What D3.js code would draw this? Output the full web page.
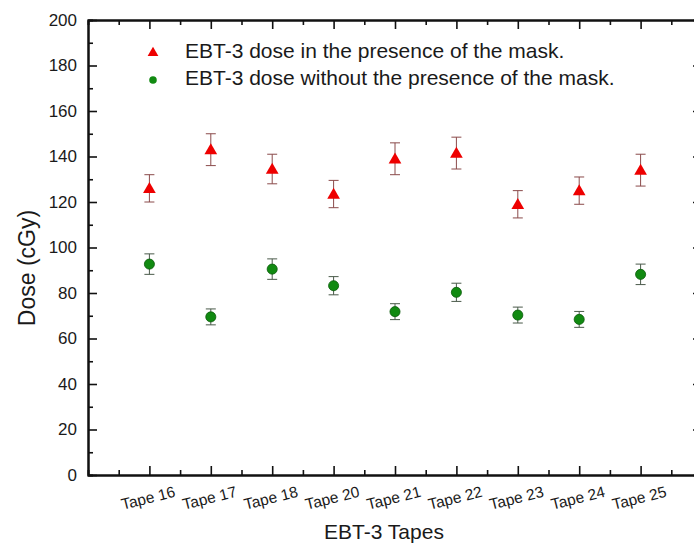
<!DOCTYPE html>
<html>
<head>
<meta charset="utf-8">
<script src="https://cdn.jsdelivr.net/npm/d3@7"></script>
<style>
  body { margin: 0; background: #fff; }
  svg text { font-family: "Liberation Sans", Arial, sans-serif; fill: #1a1a1a; }
</style>
</head>
<body>
<div id="chart"></div>
<script>
// podaci procitani sa slike
const tapes = ["Tape 16", "Tape 17", "Tape 18", "Tape 20", "Tape 21", "Tape 22", "Tape 23", "Tape 24", "Tape 25"];
const withMask = [126, 143, 134.5, 123.5, 139, 141.5, 119, 125, 134];
const withMaskErr = [6, 7, 6.5, 6, 7, 7, 6, 6, 7];
const noMask = [92.7, 69.5, 90.5, 83.2, 71.8, 80.3, 70.3, 68.4, 88.2];
const noMaskErr = [4.5, 3.5, 4.5, 4, 3.5, 4, 3.5, 3.5, 4.5];
const yTicks = [0, 20, 40, 60, 80, 100, 120, 140, 160, 180, 200];
const legendLabels = ["EBT-3 dose in the presence of the mask.", "EBT-3 dose without the presence of the mask."];

const dims = {
    width: 694,
    height: 545,
    margin: { top: 20, left: 88, bottom: 70 },
};
dims.boundsHeight = dims.height - dims.margin.top - dims.margin.bottom; // 455
dims.boundsWidth = 614; // desni rub je malo izvan slike

const svg = d3.select("#chart").append("svg")
    .attr("width", dims.width)
    .attr("height", dims.height);

const bounds = svg.append("g")
    .attr("transform", `translate(${dims.margin.left},${dims.margin.top})`);

const xScale = d3.scaleLinear()
    .domain([-1, tapes.length])
    .range([0, dims.boundsWidth]);

const yScale = d3.scaleLinear()
    .domain([0, 200])
    .range([dims.boundsHeight, 0]);

const majorX = d3.range(tapes.length);
const minorX = d3.range(-0.5, tapes.length, 1);
const minorY = d3.range(10, 200, 20);

function styleAxis(g) {
    g.select(".domain").attr("stroke", "#111").attr("stroke-width", 2);
    g.selectAll(".tick line").attr("stroke", "#111").attr("stroke-width", 1.6);
}

// donja os
const xAxis = bounds.append("g")
    .attr("transform", `translate(0,${dims.boundsHeight})`)
    .call(d3.axisBottom(xScale).tickValues(majorX).tickSizeInner(-9).tickSizeOuter(0)
        .tickPadding(12).tickFormat(i => tapes[i]));
xAxis.call(styleAxis);
xAxis.selectAll("text")
    .attr("font-size", 15.5)
    .attr("text-anchor", "middle")
    .attr("dy", "0.7em")
    .attr("transform", "translate(-6,6) rotate(-14)");
bounds.append("g")
    .attr("transform", `translate(0,${dims.boundsHeight})`)
    .call(d3.axisBottom(xScale).tickValues(minorX).tickSize(-5).tickFormat(""))
    .call(styleAxis);

// gornja os
bounds.append("g")
    .call(d3.axisTop(xScale).tickValues(majorX).tickSizeInner(-9).tickSizeOuter(0).tickFormat(""))
    .call(styleAxis);
bounds.append("g")
    .call(d3.axisTop(xScale).tickValues(minorX).tickSize(-5).tickFormat(""))
    .call(styleAxis);

// lijeva os
const yAxis = bounds.append("g")
    .call(d3.axisLeft(yScale).tickValues(yTicks).tickSizeInner(-9).tickSizeOuter(0).tickPadding(11));
yAxis.call(styleAxis);
yAxis.selectAll("text").attr("font-size", 17);
bounds.append("g")
    .call(d3.axisLeft(yScale).tickValues(minorY).tickSize(-5).tickFormat(""))
    .call(styleAxis);

// desna os
bounds.append("g")
    .attr("transform", `translate(${dims.boundsWidth},0)`)
    .call(d3.axisRight(yScale).tickValues(yTicks).tickSizeInner(-9).tickSizeOuter(0).tickFormat(""))
    .call(styleAxis);
bounds.append("g")
    .attr("transform", `translate(${dims.boundsWidth},0)`)
    .call(d3.axisRight(yScale).tickValues(minorY).tickSize(-5).tickFormat(""))
    .call(styleAxis);

// oznake osi
svg.append("text")
    .attr("text-anchor", "middle")
    .attr("font-size", 23)
    .attr("transform", `translate(35,268) rotate(-90)`)
    .text("Dose (cGy)");

svg.append("text")
    .attr("text-anchor", "middle")
    .attr("font-size", 21)
    .attr("x", 384)
    .attr("y", 539)
    .text("EBT-3 Tapes");

// error barovi
function drawErrors(vals, errs, color) {
    const g = bounds.append("g").attr("stroke", color).attr("stroke-width", 1);
    vals.forEach((v, i) => {
        const x = xScale(i);
        g.append("line").attr("x1", x).attr("x2", x).attr("y1", yScale(v + errs[i])).attr("y2", yScale(v - errs[i]));
        g.append("line").attr("x1", x - 5).attr("x2", x + 5).attr("y1", yScale(v + errs[i])).attr("y2", yScale(v + errs[i]));
        g.append("line").attr("x1", x - 5).attr("x2", x + 5).attr("y1", yScale(v - errs[i])).attr("y2", yScale(v - errs[i]));
    });
}
drawErrors(withMask, withMaskErr, "#8a4a4a");
drawErrors(noMask, noMaskErr, "#4a5a4a");

const triangle = d3.symbol().type(d3.symbolTriangle).size(70);
const circle = d3.symbol().type(d3.symbolCircle).size(80);

bounds.selectAll(".tri")
    .data(withMask)
    .join("path")
    .attr("class", "tri")
    .attr("d", triangle)
    .attr("transform", (d, i) => `translate(${xScale(i)},${yScale(d) + 1})`)
    .attr("fill", "#ee0000");

bounds.selectAll(".dot")
    .data(noMask)
    .join("path")
    .attr("class", "dot")
    .attr("d", circle)
    .attr("transform", (d, i) => `translate(${xScale(i)},${yScale(d)})`)
    .attr("fill", "#118a11")
    .attr("stroke", "#0a5a0a")
    .attr("stroke-width", 0.8);

// legenda
const legend = svg.append("g");
legend.append("path")
    .attr("d", d3.symbol().type(d3.symbolTriangle).size(50))
    .attr("transform", "translate(153,53)")
    .attr("fill", "#ee0000");
legend.append("path")
    .attr("d", d3.symbol().type(d3.symbolCircle).size(45))
    .attr("transform", "translate(153,80)")
    .attr("fill", "#118a11");
legend.selectAll(".leg-text")
    .data(legendLabels)
    .join("text")
    .attr("class", "leg-text")
    .attr("x", 185)
    .attr("y", (d, i) => 58 + i * 27)
    .attr("font-size", 21)
    .text(d => d);
</script>
</body>
</html>
